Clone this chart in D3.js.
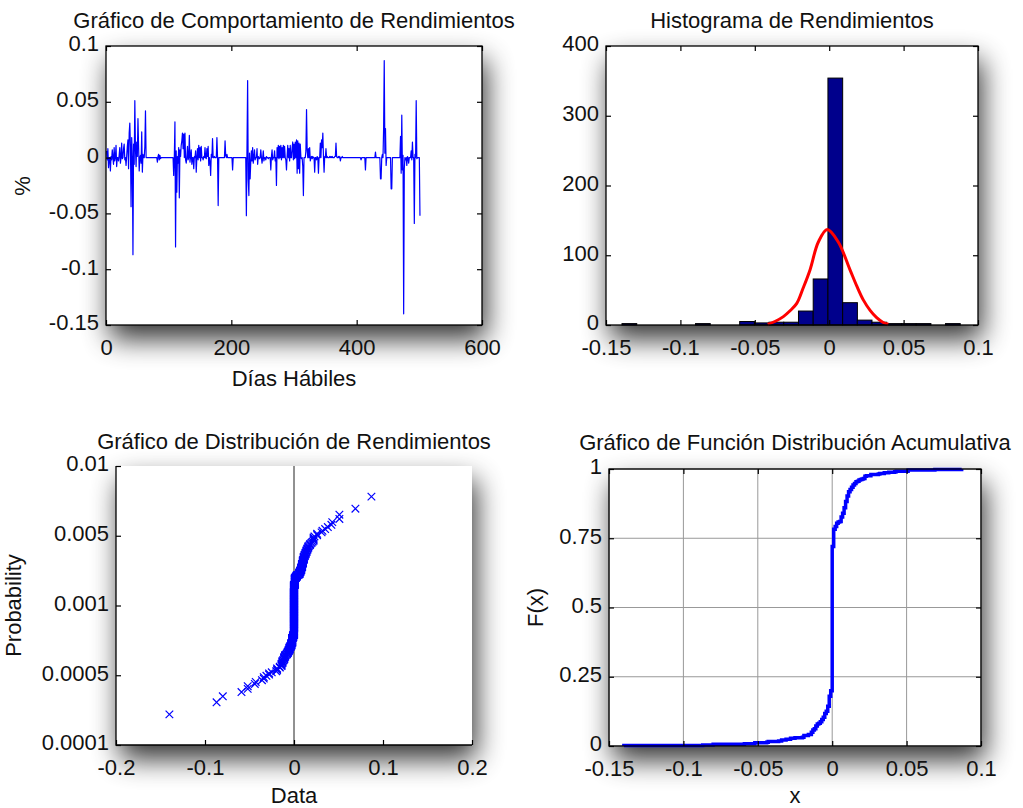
<!DOCTYPE html>
<html>
<head>
<meta charset="utf-8">
<script src="https://cdn.jsdelivr.net/npm/d3@7/dist/d3.min.js"></script>
<style>
body { margin: 0; background: #fff; }
text { font-family: "Liberation Sans", Arial, sans-serif; fill: #111; }
</style>
</head>
<body>
<svg id="fig" width="1023" height="808"></svg>
<script>
// Daily returns, day 1..501.
var returns = [
	0.006, -0.002, 0.008, -0.009, 0, 0, -0.012, 0.001, -0.002, 0.007, 0, -0.006, 0.009, -0.003, 0, 0.011, -0.008, 0, 0, -0.003,
	0.002, 0.009, -0.005, 0, 0.013, -0.001, 0, 0.008, 0.012, -0.002, 0, -0.007, 0.001, 0.010, 0.016, -0.010, 0.022,
	0.031, 0.010, -0.044, 0.018, 0, -0.087, 0.012, -0.006, 0.051, 0.008, -0.008, 0.014, 0.001, 0.035, 0.010, -0.012, 0, 0.002,
	-0.005, 0.023, -0.013, 0.003, 0, 0, 0.010, 0.042, 0,
	0, 0, 0, 0, 0, 0, 0, 0, 0, 0, 0, 0, 0, 0, 0, 0,
	0, -0.004, 0.001, 0.003, -0.002, 0.002, -0.001, 0, 0,
	0, 0, 0, 0, 0, 0, 0, 0, 0, 0, 0, 0, 0, 0, 0, 0, 0, 0,
	-0.016, 0, 0.032, -0.080, 0.006, -0.031, 0.001, -0.005, 0.009, -0.036, 0.007, 0.001, 0.011, 0.015, 0.022, 0.008, 0.021, 0,
	0.022, -0.002, -0.005, 0, 0.010, -0.002, 0, 0.020, -0.004, 0.001, 0.007, -0.006, 0, 0, -0.010, 0.001, 0, 0.006, -0.013, 0,
	0.008, -0.002, 0.011, 0, 0.009, -0.003, 0.010, 0, 0, -0.002, 0.001, 0, 0.009, 0, -0.001, 0.008, 0.001, 0.010, -0.007, 0,
	-0.004, -0.016, 0.003, 0, 0.017, 0, 0, 0.001, 0, 0, 0, 0.018, 0, -0.043, 0,
	0, 0, 0, 0, 0, 0, 0, 0, 0,
	0.015, 0.002, 0, 0.003, 0, 0, 0, 0, 0, 0, 0, 0, -0.011, 0,
	0, 0, 0, 0, 0, 0, 0, 0, 0, 0, 0, 0, 0, 0, 0, 0, 0, 0, 0, 0,
	-0.052, 0.010, 0.069, -0.020, -0.034, 0.004, -0.019, -0.004,
	0.006, -0.003, 0.009, -0.005, 0, 0.007, -0.002, 0, 0, 0.008, -0.006, 0.001, 0, -0.001, 0, 0.007, 0, -0.005, 0, 0.006,
	-0.003, 0, 0, -0.002, 0.001, 0, 0, -0.001, 0, 0,
	0, -0.011, 0.001, 0.007, -0.002, 0, 0, 0.006, -0.003, 0, -0.025, 0.009, 0, 0.011, -0.001, 0.010, 0, 0.011, -0.002, 0.009,
	0, 0.011, 0, 0.010, 0, -0.002, -0.011, 0.001, 0.011, 0, 0.008, -0.003, 0.011, 0, 0, 0.009, 0.014, -0.002, 0.012, -0.001,
	0.014, 0, 0.016, -0.014, 0.015, -0.010, 0.013, -0.014, 0.012, 0, -0.001, 0, -0.008, -0.034, 0, 0, 0, 0.006, 0.043, 0.007,
	0, 0.008, 0, 0.009, -0.003, 0, 0.001, -0.001, 0.001, 0, 0, -0.013, 0, 0, -0.002, 0.001, 0, -0.014, 0, 0,
	0.013, 0, 0.016, 0.009, 0.022, 0.001, -0.013, 0.001, 0, 0.008, 0, 0.001, 0, 0, 0, 0.001, 0, 0.001, 0, 0.001,
	0, 0, 0, 0.001, 0.001, 0.013, 0.001, 0, 0, 0.001, 0, 0.001, -0.003, 0, 0, 0.001, 0, 0, 0,
	0, 0, 0, 0, 0, 0, 0, 0, 0, 0, 0, 0, 0, 0, 0, 0, 0, 0, 0, 0, 0, 0, 0, 0, 0, 0,
	-0.002, 0, 0, 0, 0, 0, 0, -0.011, 0,
	0, 0, 0, 0, 0, 0, 0, 0, 0, 0, 0, 0, 0, 0,
	0.005,
	0, 0, 0, 0, 0, 0, 0,
	-0.019, -0.019, 0, 0.003, 0, 0.026, 0.087, 0.004, 0.026, -0.007, 0, 0, 0, 0, 0, 0, 0, -0.028, -0.028,
	0, 0, 0, 0, 0, 0, 0, 0, 0, 0, 0, 0,
	0, 0.019, -0.014, 0.038, -0.011, 0.002, -0.140, -0.010, 0, -0.002, 0, -0.007, 0.001, 0, -0.005, 0, 0, 0, 0.006, -0.002,
	0.014, 0, 0, -0.059, 0.003, 0, 0.051, -0.001, 0, 0, 0, 0, -0.052
];

// Histogram.
var histCenters = [-0.1343, -0.1244, -0.1145, -0.1046, -0.0947, -0.0849, -0.0750, -0.0651, -0.0552, -0.0453, -0.0355, -0.0256,
	-0.0157, -0.0058, 0.0041, 0.0140, 0.0238, 0.0337, 0.0436, 0.0535, 0.0634, 0.0732, 0.0831];
var histCounts = [2, 0, 0, 0, 0, 2, 0, 0, 5, 3, 4, 4, 20, 66, 354, 32, 7, 4, 2, 2, 2, 0, 2];

// Fitted normal curve.
var fitX = [-0.0413, -0.0365, -0.0308, -0.0265, -0.0218, -0.0175, -0.0129, -0.0073, -0.0013, 0.0061, 0.0140, 0.0185, 0.0229, 0.0275, 0.0319, 0.0360, 0.0397];
var fitY = [1, 5, 12, 20, 31, 53, 79, 119, 137, 119, 79, 56, 36, 21, 10.5, 4, 1];

// Tick labels.
var p1XTicks = [0, 200, 400, 600];
var p1YTicks = [-0.15, -0.1, -0.05, 0, 0.05, 0.1];
var p2XTicks = [-0.15, -0.1, -0.05, 0, 0.05, 0.1];
var p2YTicks = [0, 100, 200, 300, 400];
var p3XTicks = [-0.2, -0.1, 0, 0.1, 0.2];
var p3YLabels = ["0.0001", "0.0005", "0.001", "0.005", "0.01"];
var p4XTicks = [-0.15, -0.1, -0.05, 0, 0.05, 0.1];
var p4YTicks = [0, 0.25, 0.5, 0.75, 1];

var svg = d3.select("#fig");
var fontSize = 22;

svg.append("defs").append("filter")
		.attr("id", "sh")
		.attr("x", "-30%").attr("y", "-30%")
		.attr("width", "160%").attr("height", "160%")
	.append("feGaussianBlur")
		.attr("stdDeviation", 14);

svg.append("rect").attr("width", 1023).attr("height", 808).attr("fill", "#fff");

// Axes box with drop shadow underneath.
function panel(l, r, t, b) {
	svg.append("rect")
			.attr("x", l + 4).attr("y", t + 14)
			.attr("width", r - l).attr("height", b - t)
			.attr("fill", "#000")
			.attr("opacity", 0.8)
			.attr("filter", "url(#sh)");
	var g = svg.append("g");
	g.append("rect")
			.attr("x", l).attr("y", t)
			.attr("width", r - l).attr("height", b - t)
			.attr("fill", "#fff");
	return g;
}

function fmt(d) { return String(d); }

function styleAxis(sel) {
	sel.select(".domain").remove();
	sel.selectAll("line").attr("stroke", "#000").attr("stroke-width", 1.2);
	sel.selectAll("text")
			.attr("font-size", fontSize)
			.attr("font-family", "Liberation Sans, Arial, sans-serif")
			.attr("fill", "#111");
}

function axes(g, x, y, box, boxed) {
	var l = box[0], r = box[1], t = box[2], b = box[3];
	g.append("g").attr("transform", "translate(0," + b + ")")
			.call(x.axis(d3.axisBottom).tickSizeInner(-5).tickSizeOuter(0).tickPadding(14))
			.call(styleAxis);
	g.append("g").attr("transform", "translate(" + l + ",0)")
			.call(y.axis(d3.axisLeft).tickSizeInner(-5).tickSizeOuter(0).tickPadding(7))
			.call(styleAxis)
			.selectAll("text").attr("dy", "0.22em");
	if (boxed) {
		g.append("g").attr("transform", "translate(0," + t + ")")
				.call(x.axis(d3.axisTop).tickSizeInner(-5).tickSizeOuter(0).tickFormat(""))
				.call(styleAxis);
		g.append("g").attr("transform", "translate(" + r + ",0)")
				.call(y.axis(d3.axisRight).tickSizeInner(-5).tickSizeOuter(0).tickFormat(""))
				.call(styleAxis);
		g.append("rect")
				.attr("x", l).attr("y", t)
				.attr("width", r - l).attr("height", b - t)
				.attr("fill", "none").attr("stroke", "#000").attr("stroke-width", 1.3);
	} else {
		g.append("path")
				.attr("d", "M" + l + "," + t + "V" + b + "H" + r)
				.attr("fill", "none").attr("stroke", "#000").attr("stroke-width", 1.3);
	}
}

function label(txt, x, y, rot) {
	svg.append("text")
			.attr("transform", "translate(" + x + "," + y + ")" + (rot ? " rotate(-90)" : ""))
			.attr("text-anchor", "middle")
			.attr("font-size", fontSize)
			.text(txt);
}

// ---------- Panel 1: returns over time ----------
var b1 = [106, 482, 46, 325];
var g1 = panel(b1[0], b1[1], b1[2], b1[3]);
var x1 = d3.scaleLinear().domain([0, 600]).range([b1[0], b1[1]]);
var y1 = d3.scaleLinear().domain([-0.15, 0.1]).range([b1[3], b1[2]]);

g1.append("path")
		.datum(returns)
		.attr("fill", "none")
		.attr("stroke", "#0000ff")
		.attr("stroke-width", 1.2)
		.attr("stroke-linejoin", "round")
		.attr("d", d3.line()
				.x(function(d, i) { return x1(i + 1); })
				.y(function(d) { return y1(d); }));

axes(g1,
		{ axis: function(a) { return a(x1).tickValues(p1XTicks).tickFormat(fmt); } },
		{ axis: function(a) { return a(y1).tickValues(p1YTicks).tickFormat(fmt); } },
		b1, true);
label("Gráfico de Comportamiento de Rendimientos", (b1[0] + b1[1]) / 2, 28);
label("Días Hábiles", (b1[0] + b1[1]) / 2, 386);
label("%", 30, 186, true);

// ---------- Panel 2: histogram ----------
var b2 = [606, 978, 46, 325];
var g2 = panel(b2[0], b2[1], b2[2], b2[3]);
var x2 = d3.scaleLinear().domain([-0.15, 0.1]).range([b2[0], b2[1]]);
var y2 = d3.scaleLinear().domain([0, 400]).range([b2[3], b2[2]]);
var binW = histCenters[1] - histCenters[0];

g2.selectAll("rect.bar")
		.data(histCounts.map(function(c, i) { return { x: histCenters[i], n: c }; })
				.filter(function(d) { return d.n > 0; }))
		.enter().append("rect")
		.attr("class", "bar")
		.attr("x", function(d) { return x2(d.x - binW / 2); })
		.attr("width", function(d) { return x2(d.x + binW / 2) - x2(d.x - binW / 2); })
		.attr("y", function(d) { return y2(d.n); })
		.attr("height", function(d) { return y2(0) - y2(d.n); })
		.attr("fill", "#00008c")
		.attr("stroke", "#000")
		.attr("stroke-width", 1);

g2.append("path")
		.datum(fitX.map(function(v, i) { return [v, fitY[i]]; }))
		.attr("fill", "none")
		.attr("stroke", "#ff0000")
		.attr("stroke-width", 3)
		.attr("d", d3.line()
				.curve(d3.curveCatmullRom)
				.x(function(d) { return x2(d[0]); })
				.y(function(d) { return y2(d[1]); }));

axes(g2,
		{ axis: function(a) { return a(x2).tickValues(p2XTicks).tickFormat(fmt); } },
		{ axis: function(a) { return a(y2).tickValues(p2YTicks).tickFormat(fmt); } },
		b2, true);
label("Histograma de Rendimientos", (b2[0] + b2[1]) / 2, 28);

// ---------- Panel 3: normal probability plot ----------
// inverse normal CDF (Acklam) for the probability positions
function probit(p) {
	var a = [-39.69683028665376, 220.9460984245205, -275.9285104469687, 138.3577518672690, -30.66479806614716, 2.506628277459239];
	var b = [-54.47609879822406, 161.5858368580409, -155.6989798598866, 66.80131188771972, -13.28068155288572];
	var c = [-0.007784894002430293, -0.3223964580411365, -2.400758277161838, -2.549732539343734, 4.374664141464968, 2.938163982698783];
	var d = [0.007784695709041462, 0.3224671290700398, 2.445134137142996, 3.754408661907416];
	var q, r;
	if (p < 0.02425) {
		q = Math.sqrt(-2 * Math.log(p));
		return (((((c[0] * q + c[1]) * q + c[2]) * q + c[3]) * q + c[4]) * q + c[5]) / ((((d[0] * q + d[1]) * q + d[2]) * q + d[3]) * q + 1);
	}
	if (p > 1 - 0.02425) return -probit(1 - p);
	q = p - 0.5; r = q * q;
	return (((((a[0] * r + a[1]) * r + a[2]) * r + a[3]) * r + a[4]) * r + a[5]) * q / (((((b[0] * r + b[1]) * r + b[2]) * r + b[3]) * r + b[4]) * r + 1);
}

var sorted = d3.sort(returns);
var n = sorted.length;

var b3 = [116, 472, 466, 745];
var g3 = panel(b3[0], b3[1], b3[2], b3[3]);
var x3 = d3.scaleLinear().domain([-0.2, 0.2]).range([b3[0], b3[1]]);
var y3 = d3.scaleLinear().domain([-3.96, 3.96]).range([b3[3], b3[2]]);
var y3Ticks = d3.scalePoint().domain(p3YLabels).range([b3[3], b3[2]]);

g3.append("line")
		.attr("x1", x3(0)).attr("x2", x3(0))
		.attr("y1", b3[2]).attr("y2", b3[3])
		.attr("stroke", "#222").attr("stroke-width", 1);

var m = 3.8;
g3.selectAll("path.mk")
		.data(sorted)
		.enter().append("path")
		.attr("class", "mk")
		.attr("fill", "none")
		.attr("stroke", "#0000ff")
		.attr("stroke-width", 1.2)
		.attr("d", function(d, i) {
			var cx = x3(d), cy = y3(probit((i + 0.5) / n));
			return "M" + (cx - m) + "," + (cy - m) + "L" + (cx + m) + "," + (cy + m) +
					"M" + (cx - m) + "," + (cy + m) + "L" + (cx + m) + "," + (cy - m);
		});

axes(g3,
		{ axis: function(a) { return a(x3).tickValues(p3XTicks).tickFormat(fmt); } },
		{ axis: function(a) { return a(y3Ticks); } },
		b3, false);
label("Gráfico de Distribución de Rendimientos", (b3[0] + b3[1]) / 2, 449);
label("Data", (b3[0] + b3[1]) / 2, 803);
label("Probability", 21, (b3[2] + b3[3]) / 2, true);

// ---------- Panel 4: empirical CDF ----------
var b4 = [609, 981, 469, 746];
var g4 = panel(b4[0], b4[1], b4[2], b4[3]);
var x4 = d3.scaleLinear().domain([-0.15, 0.1]).range([b4[0], b4[1]]);
var y4 = d3.scaleLinear().domain([0, 1]).range([b4[3], b4[2]]);

g4.selectAll("line.gx")
		.data(p4XTicks)
		.enter().append("line")
		.attr("x1", x4).attr("x2", x4)
		.attr("y1", b4[2]).attr("y2", b4[3])
		.attr("stroke", "#999").attr("stroke-width", 1);
g4.selectAll("line.gy")
		.data(p4YTicks)
		.enter().append("line")
		.attr("x1", b4[0]).attr("x2", b4[1])
		.attr("y1", y4).attr("y2", y4)
		.attr("stroke", "#999").attr("stroke-width", 1);

var ecdf = [[sorted[0], 0]].concat(sorted.map(function(v, i) { return [v, (i + 1) / n]; }));
g4.append("path")
		.datum(ecdf)
		.attr("fill", "none")
		.attr("stroke", "#0000ff")
		.attr("stroke-width", 3.5)
		.attr("d", d3.line()
				.curve(d3.curveStepAfter)
				.x(function(d) { return x4(d[0]); })
				.y(function(d) { return y4(d[1]); }));

axes(g4,
		{ axis: function(a) { return a(x4).tickValues(p4XTicks).tickFormat(fmt); } },
		{ axis: function(a) { return a(y4).tickValues(p4YTicks).tickFormat(fmt); } },
		b4, true);
label("Gráfico de Función Distribución Acumulativa", (b4[0] + b4[1]) / 2, 450);
label("x", (b4[0] + b4[1]) / 2, 803);
label("F(x)", 543, (b4[2] + b4[3]) / 2, true);
</script>
</body>
</html>
